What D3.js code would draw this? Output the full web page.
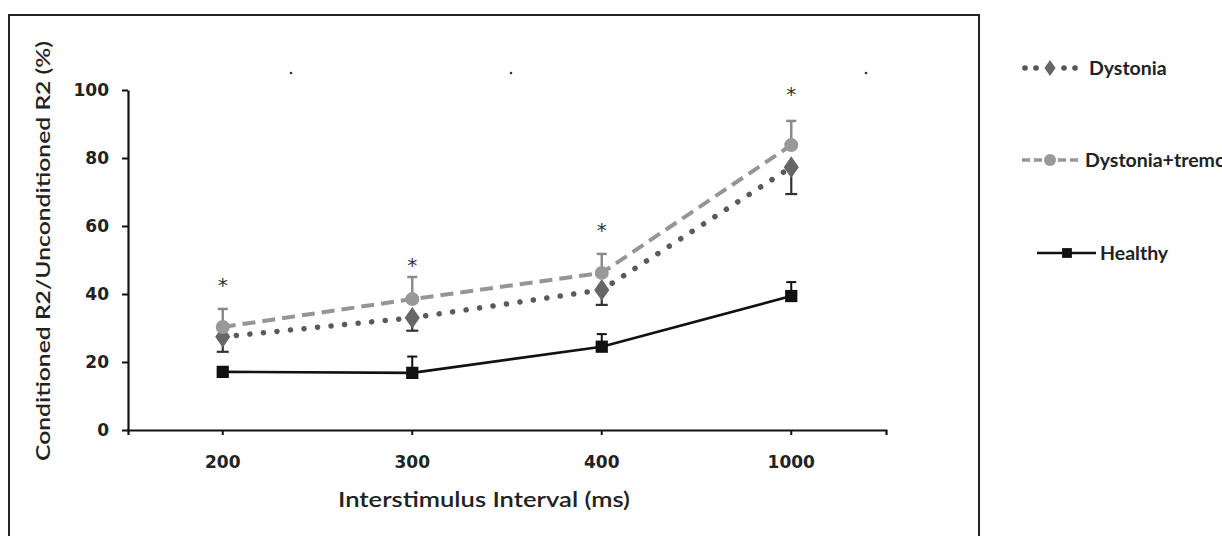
<!DOCTYPE html>
<html><head><meta charset="utf-8">
<script src="https://cdn.jsdelivr.net/npm/d3@7"></script>
<style>
body{margin:0;background:#fff;}
svg{display:block;font-family:Lato,"Open Sans",sans-serif;}
</style></head>
<body><svg id="c" width="1222" height="536"></svg>
<script>
const categories = ["200","300","400","1000"];
const yTicks = [0,20,40,60,80,100];
const dystonia = [27.4, 33.0, 41.2, 77.3];
const dystoniaErr = [4.4, 3.8, 4.4, 7.9];        // drawn downward
const dysTremor = [30.3, 38.5, 46.2, 83.8];
const dysTremorErr = [5.3, 6.5, 5.6, 7.1];       // drawn upward
const healthy = [17.1, 16.8, 24.5, 39.4];
const healthyErr = [1.0, 4.8, 3.7, 4.1];         // drawn upward
const asteriskY = [43.5, 49.4, 59.6, 99.8];      // centre height of significance marks
const seriesNames = ["Dystonia","Dystonia+tremor","Healthy"];

const svg = d3.select("#c");
const x = d3.scaleBand().domain(categories).range([128, 886]);
const y = d3.scaleLinear().domain([0,100]).range([430, 90]);
const cx = c => x(c) + x.bandwidth()/2;

// frame
svg.append("path").attr("d","M9,540 V15 H979 V540").attr("fill","none").attr("stroke","#222").attr("stroke-width",2);

// stray faint marks near top
[[291,73],[511,73],[866,73]].forEach(p=>svg.append("circle").attr("cx",p[0]).attr("cy",p[1]).attr("r",1.3).attr("fill","#333"));

// axes
const yAxis = svg.append("g").attr("transform","translate(128,0)")
  .call(d3.axisLeft(y).tickValues(yTicks).tickSize(6).tickSizeOuter(0).tickPadding(13));
const xAxis = svg.append("g").attr("transform","translate(0,430)")
  .call(d3.axisBottom(x).tickSize(5).tickSizeOuter(5).tickPadding(21));
[yAxis,xAxis].forEach(a=>{
  a.select(".domain").attr("stroke","#111").attr("stroke-width",2.2);
  a.selectAll(".tick line").attr("stroke","#111").attr("stroke-width",2);
  a.selectAll("text").attr("fill","#222").attr("font-family","DejaVu Sans").attr("font-size",17).attr("font-weight",700);
});
svg.append("text").attr("x",484).attr("y",507).attr("text-anchor","middle")
  .attr("font-size",21).attr("font-weight",600).attr("fill","#222")
  .attr("textLength",292).attr("lengthAdjust","spacingAndGlyphs").text("Interstimulus Interval (ms)");
svg.append("text").attr("transform","translate(50,251) rotate(-90)").attr("text-anchor","middle")
  .attr("font-size",20).attr("font-weight",600).attr("fill","#222").attr("textLength",420).attr("lengthAdjust","spacingAndGlyphs")
  .text("Conditioned R2/Unconditioned R2 (%)");

const line = d3.line().x((d,i)=>cx(categories[i])).y(d=>y(d));

// error bars
function errBars(vals, errs, dir, color, w, cap){
  vals.forEach((v,i)=>{
    const xc = cx(categories[i]), y1 = y(v), y2 = y(v + dir*errs[i]);
    svg.append("line").attr("x1",xc).attr("x2",xc).attr("y1",y1).attr("y2",y2).attr("stroke",color).attr("stroke-width",w);
    svg.append("line").attr("x1",xc-cap).attr("x2",xc+cap).attr("y1",y2).attr("y2",y2).attr("stroke",color).attr("stroke-width",w);
  });
}
errBars(healthy, healthyErr, 1, "#111", 2, 5);
errBars(dystonia, dystoniaErr, -1, "#333", 2.2, 6);
errBars(dysTremor, dysTremorErr, 1, "#8a8a8a", 2.5, 5);

// lines
svg.append("path").datum(healthy).attr("d",line).attr("fill","none").attr("stroke","#111").attr("stroke-width",2.6);
svg.append("path").datum(dystonia).attr("d",line).attr("fill","none").attr("stroke","#5a5a5a")
  .attr("stroke-width",5.5).attr("stroke-linecap","round").attr("stroke-dasharray","0.1 13.5");
svg.append("path").datum(dysTremor).attr("d",line).attr("fill","none").attr("stroke","#959595")
  .attr("stroke-width",4).attr("stroke-dasharray","13 7");

// markers
const sq = d3.symbol().type(d3.symbolSquare).size(150);
const dia = d3.symbol().type(d3.symbolDiamond).size(150);
healthy.forEach((v,i)=>svg.append("path").attr("d",sq).attr("transform",`translate(${cx(categories[i])},${y(v)})`).attr("fill","#111"));
dystonia.forEach((v,i)=>svg.append("path").attr("d",dia).attr("transform",`translate(${cx(categories[i])},${y(v)}) scale(1.15,0.95)`).attr("fill","#666"));
dysTremor.forEach((v,i)=>svg.append("circle").attr("cx",cx(categories[i])).attr("cy",y(v)).attr("r",7).attr("fill","#999"));

// asterisks
asteriskY.forEach((v,i)=>svg.append("text").attr("x",cx(categories[i])).attr("y",y(v)+10).attr("text-anchor","middle")
  .attr("font-family","DejaVu Sans").attr("font-size",20).attr("fill","#333").text("*"));

// legend
const lg = svg.append("g");
const lfs = 19.5;
// Dystonia
[1025,1036,1064,1075].forEach(px=>lg.append("circle").attr("cx",px).attr("cy",68).attr("r",2.8).attr("fill","#555"));
lg.append("path").attr("d",dia).attr("transform","translate(1050,68) scale(0.85,0.7)").attr("fill","#666");
lg.append("text").attr("x",1089).attr("y",75).attr("font-size",lfs).attr("font-weight",700).attr("fill","#222").text(seriesNames[0]);
// Dystonia+tremor
lg.append("line").attr("x1",1022).attr("x2",1082).attr("y1",160).attr("y2",160).attr("stroke","#959595").attr("stroke-width",3.5).attr("stroke-dasharray","8 4");
lg.append("circle").attr("cx",1050).attr("cy",160).attr("r",6).attr("fill","#999");
lg.append("text").attr("x",1085).attr("y",167).attr("font-size",lfs).attr("font-weight",700).attr("fill","#222").text(seriesNames[1]);
// Healthy
lg.append("line").attr("x1",1037).attr("x2",1096).attr("y1",253).attr("y2",253).attr("stroke","#111").attr("stroke-width",2.6);
lg.append("path").attr("d",sq).attr("transform","translate(1067,253) scale(0.8)").attr("fill","#111");
lg.append("text").attr("x",1100).attr("y",260).attr("font-size",lfs).attr("font-weight",700).attr("fill","#222").text(seriesNames[2]);
</script></body></html>
